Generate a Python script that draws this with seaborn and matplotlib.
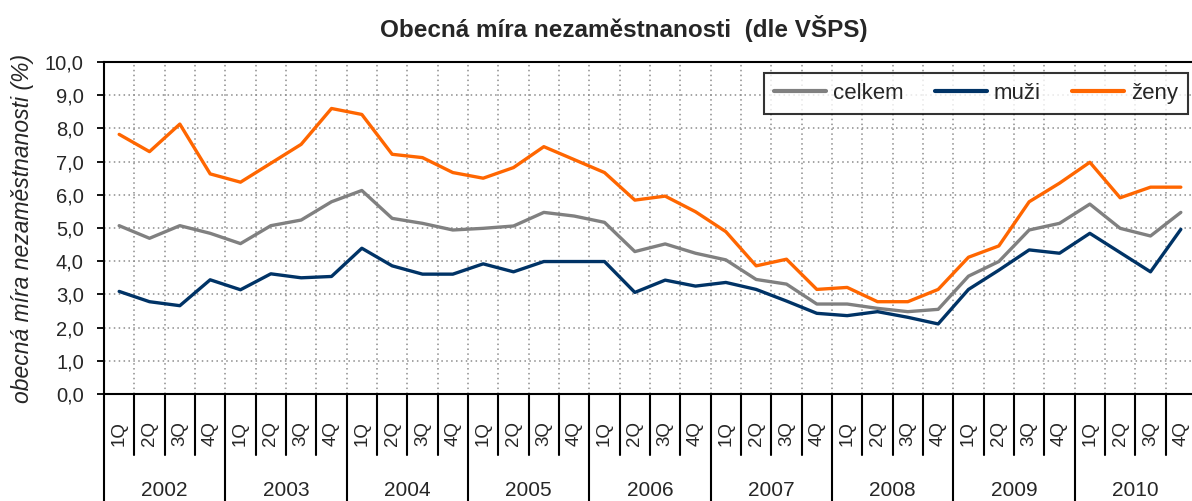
import numpy as np
import pandas as pd
import matplotlib
matplotlib.use("Agg")
import matplotlib.pyplot as plt
import seaborn as sns

# ---- data ----
years = ["2002", "2003", "2004", "2005", "2006", "2007", "2008", "2009", "2010"]
quarters = ["1Q", "2Q", "3Q", "4Q"]
series_names = ["celkem", "muži", "ženy"]

celkem = [5.07, 4.69, 5.07, 4.84, 4.53, 5.07, 5.24, 5.79, 6.13,
          5.29, 5.14, 4.94, 4.99, 5.06, 5.47, 5.36, 5.17, 4.29,
          4.52, 4.24, 4.04, 3.45, 3.31, 2.71, 2.71, 2.58, 2.48,
          2.55, 3.55, 3.99, 4.94, 5.14, 5.72, 4.99, 4.76, 5.47]
muzi = [3.09, 2.78, 2.66, 3.44, 3.14, 3.62, 3.50, 3.54, 4.39,
        3.86, 3.61, 3.61, 3.92, 3.68, 3.99, 3.99, 3.99, 3.06,
        3.43, 3.25, 3.36, 3.15, 2.80, 2.43, 2.36, 2.48, 2.31,
        2.11, 3.15, 3.73, 4.34, 4.24, 4.84, 4.26, 3.68, 4.96]
zeny = [7.82, 7.30, 8.13, 6.63, 6.38, 6.95, 7.52, 8.60, 8.42,
        7.22, 7.12, 6.67, 6.50, 6.82, 7.45, 7.06, 6.67, 5.84,
        5.96, 5.49, 4.89, 3.86, 4.06, 3.15, 3.21, 2.78, 2.78,
        3.15, 4.12, 4.46, 5.79, 6.35, 6.98, 5.91, 6.23, 6.23]

colors = {"celkem": "#808080", "muži": "#003366", "ženy": "#FF6600"}

n = len(celkem)
df = pd.DataFrame({
    "idx": list(range(n)) * 3,
    "value": celkem + muzi + zeny,
    "series": [s for s in series_names for _ in range(n)],
})

sns.set_theme(style="white")
plt.rcParams["font.family"] = ["Liberation Sans", "DejaVu Sans"]

W, H = 1192, 501
fig = plt.figure(figsize=(W / 100, H / 100), dpi=100)
ax_left, ax_top, ax_bottom = 104, 62, 394
ax_w = 1092
ax = fig.add_axes([ax_left / W, 1 - ax_bottom / H, ax_w / W, (ax_bottom - ax_top) / H])

sns.lineplot(data=df, x="idx", y="value", hue="series", hue_order=series_names,
             palette=colors, linewidth=2.4, ax=ax, legend=True)

ax.set_xlim(-0.5, n - 0.5)
ax.set_ylim(0, 10)
yt = np.arange(0, 11, 1)
ax.set_yticks(yt)
ax.set_yticklabels([f"{v:.1f}".replace(".", ",") for v in yt], fontsize=14.5)
ax.set_xticks(np.arange(0.5, n - 0.5, 1))
ax.set_xticklabels([])
ax.tick_params(axis="x", length=0)
ax.tick_params(axis="y", length=5, width=1.3, color="black", direction="out", pad=9.5, left=True)
ax.grid(True, linestyle=(0, (1, 2.2)), color="#8c8c8c", linewidth=1.1)
ax.set_axisbelow(True)
for side in ["left", "top", "bottom", "right"]:
    ax.spines[side].set_color("black")
    ax.spines[side].set_linewidth(1.5)
ax.set_xlabel("")
ax.set_ylabel("obecná míra nezaměstnanosti (%)", fontsize=16.5, style="italic")
ax.yaxis.set_label_coords(-(ax_left - 34) / ax_w, 0.5)

# category axis: separators and labels
tr = ax.get_xaxis_transform()
ph = ax_bottom - ax_top
short_y = -(455 - ax_bottom) / ph
long_y = -(H + 2 - ax_bottom) / ph
for k in range(n + 1):
    x = k - 0.5
    y1 = long_y if k % 4 == 0 else short_y
    ax.plot([x, x], [0, y1], transform=tr, color="black", lw=1.5, clip_on=False)
qy = -(434 - ax_bottom) / ph
yy = -(491 - ax_bottom) / ph
for i in range(n):
    ax.text(i, qy, quarters[i % 4], transform=tr, rotation=90, ha="center", va="center",
            fontsize=13.5)
for j, yr in enumerate(years):
    ax.text(j * 4 + 1.5, yy, yr, transform=tr, ha="center", va="center", fontsize=15)

# legend
handles, labels = ax.get_legend_handles_labels()
lx0 = (764 - ax_left) / ax_w
lx1 = (1188 - ax_left) / ax_w
ly_top = (ax_bottom - 73) / ph
leg = ax.legend(handles, labels, loc="upper left", mode="expand",
                bbox_to_anchor=(lx0, ly_top - 0.2, lx1 - lx0, 0.2),
                ncol=3, fontsize=16, frameon=True, fancybox=False, edgecolor="black",
                handlelength=2.35, handletextpad=0.3, columnspacing=0.95,
                borderpad=0.45, borderaxespad=0)
leg.get_frame().set_linewidth(1.5)
for h in leg.get_lines():
    h.set_linewidth(3)

fig.text(624 / W, 1 - 28 / H, "Obecná míra nezaměstnanosti  (dle VŠPS)",
         ha="center", va="center", fontsize=17.5, fontweight="bold")

fig.savefig("out.png", dpi=100)
